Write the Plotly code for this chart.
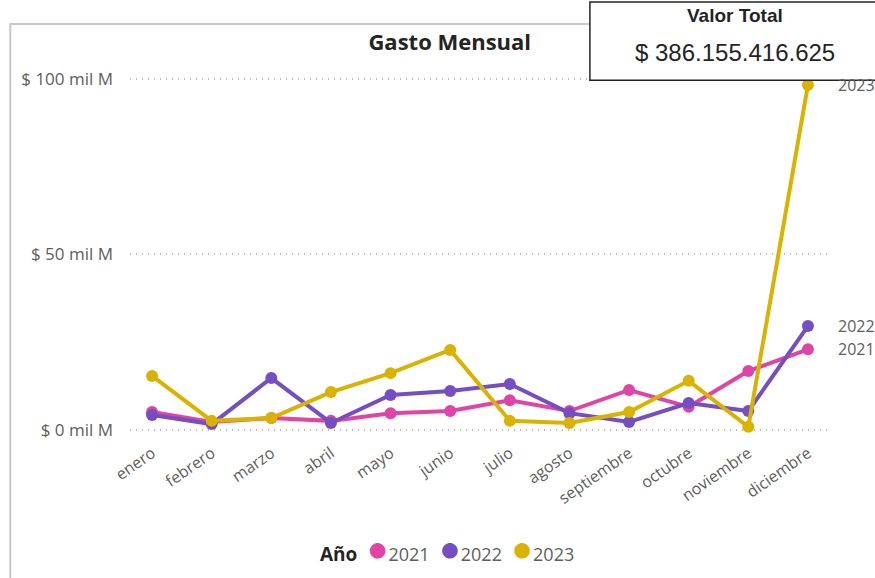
import plotly.graph_objects as go

meses = ["enero", "febrero", "marzo", "abril", "mayo", "junio", "julio",
         "agosto", "septiembre", "octubre", "noviembre", "diciembre"]

# gasto en mil millones (mil M)
gasto_2021 = [5.1, 2.3, 3.4, 2.6, 4.8, 5.4, 8.5, 5.4, 11.4, 6.6, 16.8, 23.0]
gasto_2022 = [4.3, 1.7, 14.8, 2.0, 10.0, 11.1, 13.1, 4.8, 2.3, 7.7, 5.4, 29.6]
gasto_2023 = [15.4, 2.6, 3.4, 10.8, 16.2, 22.8, 2.6, 2.0, 5.1, 14.0, 0.9, 98.3]

y_ticks = [0, 50, 100]
y_tick_text = ["$ 0 mil M", "$ 50 mil M", "$ 100 mil M"]
valor_total = "$ 386.155.416.625"

series = [("2021", gasto_2021, "#E044A7"),
          ("2022", gasto_2022, "#744EC2"),
          ("2023", gasto_2023, "#D9B300")]

fig = go.Figure()

nb = "\u00a0"
legend_parts = ['<b style="color:#252423;font-size:19px">Año</b>' + nb * 2]
for name, vals, color in series:
    fig.add_trace(go.Scatter(
        x=list(range(len(meses))), y=vals, mode="lines+markers", name=name,
        line=dict(color=color, width=4), marker=dict(color=color, size=12),
        showlegend=False
    ))
    fig.add_annotation(
        x=len(meses) - 1, y=vals[-1], text=name, showarrow=False,
        xanchor="left", yanchor="middle", xshift=28,
        font=dict(size=16, color="#605E5C")
    )
    legend_parts.append(
        f'<span style="color:{color};font-size:36px">●</span>{name}' + nb * 2)

# frame of the visual
fig.add_shape(type="rect", xref="paper", yref="paper",
              x0=-0.171, x1=1.2, y0=-0.5, y1=1.0947,
              line=dict(color="#C8C8C8", width=2), layer="below")

# card
fig.add_shape(type="rect", xref="paper", yref="paper",
              x0=0.657, x1=1.066, y0=0.947, y1=1.1526,
              line=dict(color="#252423", width=1.5), fillcolor="white")
fig.add_annotation(xref="paper", yref="paper", x=0.864, y=1.1158,
                   xanchor="center", yanchor="middle",
                   text="<b>Valor Total</b>", showarrow=False,
                   font=dict(family="Liberation Sans, Arial", size=19, color="#252423"))
fig.add_annotation(xref="paper", yref="paper", x=0.864, y=1.021,
                   xanchor="center", yanchor="middle",
                   text=valor_total, showarrow=False,
                   font=dict(family="Liberation Sans, Arial", size=24, color="#252423"))

# legend as one line of text (Año ● 2021 ● 2022 ● 2023)
fig.add_annotation(xref="paper", yref="paper", x=0.453, y=-0.284,
                   xanchor="center", yanchor="middle", showarrow=False,
                   text="".join(legend_parts).rstrip(nb),
                   font=dict(size=18, color="#605E5C"))

fig.update_layout(
    width=875, height=578,
    margin=dict(l=130, r=45, t=60, b=138),
    plot_bgcolor="white", paper_bgcolor="white",
    showlegend=False,
    font=dict(family="Open Sans, Noto Sans, sans-serif", color="#605E5C"),
    title=dict(text="<b>Gasto Mensual</b>", x=0.514, xanchor="center",
               y=0.927, yanchor="middle",
               font=dict(size=22, color="#252423")),
    xaxis=dict(
        range=[-0.37, 11.37], tickmode="array",
        tickvals=list(range(len(meses))), ticktext=meses,
        tickangle=-35, tickfont=dict(size=16, color="#605E5C"),
        showgrid=False, zeroline=False, showline=False
    ),
    yaxis=dict(
        range=[-2.85, 105.4], tickmode="array",
        tickvals=y_ticks, ticktext=y_tick_text,
        tickfont=dict(size=17, color="#605E5C"),
        showgrid=True, gridcolor="#BDBBB9", griddash="1px,5px", gridwidth=1.5,
        zeroline=False, showline=False, ticks="", ticklabelstandoff=16
    )
)

# drop the browser's default 8px body margin so the figure sits at 0,0
fig.write_html("out.html", config={"displayModeBar": False},
               post_script="document.body.style.margin='0';")
